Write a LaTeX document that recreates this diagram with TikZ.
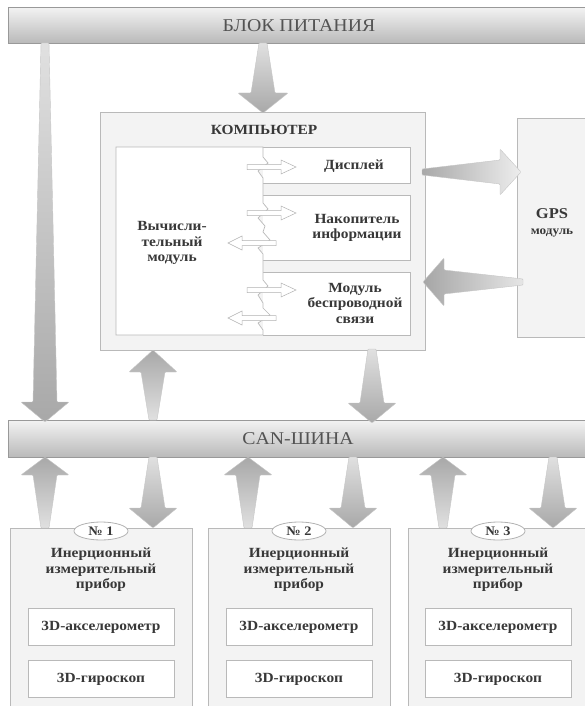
\documentclass[tikz,border=0pt]{standalone}
\usepackage{fontspec}
\setmainfont{Liberation Serif}[FakeStretch=1.1]
\usetikzlibrary{shapes.geometric}
\definecolor{txt}{HTML}{383838}
\definecolor{boxbg}{HTML}{F3F3F3}
\newcommand\varr[8]{\shade[#8] ({#1-#5},#2) -- ({#1-#6},#3) -- ({#1-#7},#3) -- (#1,#4) -- ({#1+#7},#3) -- ({#1+#6},#3) -- ({#1+#5},#2) -- cycle;}
\newcommand\harr[8]{\shade[#8] (#2,{#1-#5}) -- (#3,{#1-#6}) -- (#3,{#1-#7}) -- (#4,#1) -- (#3,{#1+#7}) -- (#3,{#1+#6}) -- (#2,{#1+#5}) -- cycle;}
\newcommand\sarr[4]{\filldraw[smallarr] (#2,{#1-2.5}) -- (#3,{#1-2.5}) -- (#3,{#1-7}) -- (#4,#1) -- (#3,{#1+7}) -- (#3,{#1+2.5}) -- (#2,{#1+2.5}) -- cycle;}
\begin{document}
\begin{tikzpicture}[x=1pt,y=-1pt,
  bar/.style={top color=gray!10, bottom color=gray!55, draw=gray!80, line width=0.9pt, inner sep=0pt},
  bartext/.style={text=gray!65!black, font=\fontsize{18}{18}\selectfont},
  box/.style={fill=boxbg, draw=gray!55, line width=0.7pt, inner sep=0pt},
  wbox/.style={fill=white, draw=gray!55, line width=0.7pt, inner sep=0pt},
  lbl/.style={text=txt, font=\bfseries\fontsize{14}{15.5}\selectfont, align=center, inner sep=0pt},
  numell/.style={ellipse, fill=white, draw=gray!60, line width=0.8pt, minimum width=54pt, minimum height=18pt, inner sep=0pt, text=txt, font=\bfseries\fontsize{13}{13}\selectfont},
  fat/.style={draw=gray!45, line width=0.4pt, rounded corners=0.8pt},
  fdown/.style={fat, top color=gray!24, bottom color=gray!68},
  fup/.style={fat, top color=gray!68, bottom color=gray!24},
  smallarr/.style={fill=white, draw=gray!60, line width=0.5pt}]
\useasboundingbox (0,0) rectangle (584,706);

% bars
\node[bar, anchor=north west, minimum width=582pt, minimum height=36pt] (pwr) at (8,7) {};
\node[bartext] (pwrtxt) at (299,26) {БЛОК ПИТАНИЯ};
\node[bar, anchor=north west, minimum width=582pt, minimum height=37pt] (can) at (8,420) {};
\node[bartext] (cantxt) at (298,439) {CAN-ШИНА};

% computer
\node[box, anchor=north west, minimum width=325pt, minimum height=238pt] (comp) at (100,112) {};
\node[lbl, font=\bfseries\fontsize{14}{14}\selectfont] (comptxt) at (264,130) {КОМПЬЮТЕР};

% sub boxes
\fill[white] (263,147) rectangle (410,183);
\draw[gray!55, line width=0.7pt] (263,147) -| (410,183) -- (263,183);
\fill[white] (263,195) rectangle (410,260);
\draw[gray!55, line width=0.7pt] (263,195) -| (410,260) -- (263,260);
\fill[white] (263,272) rectangle (410,335);
\draw[gray!55, line width=0.7pt] (263,272) -| (410,335) -- (263,335);

% computing module area with jagged edge
\filldraw[fill=white, draw=gray!55, line width=0.7pt] (263,147) -- (116,147) -- (116,335) -- (263,335) -- (263,330) -- (258,323) -- (270,315) -- (263,308) -- (263,303) -- (258,295) -- (268,286) -- (263,280) -- (263,254) -- (258,248) -- (270,240) -- (263,232) -- (265,226) -- (258,218) -- (268,209) -- (263,203) -- (263,178) -- (258,171) -- (268,163) -- (263,157) -- cycle;

\node[lbl] (calc) at (172,243) {Вычисли-\\тельный\\модуль};
\node[lbl] (disp) at (354,166) {Дисплей};
\node[lbl] (stor) at (357,228) {Накопитель\\информации};
\node[lbl] (wifi) at (355,303) {Модуль\\беспроводной\\связи};

% small hollow arrows
\sarr{167}{247}{281}{296}
\sarr{213}{247}{281}{296}
\sarr{290}{247}{281}{296}
\sarr{243}{276}{242}{228}
\sarr{318}{276}{242}{228}

% GPS
\node[box, anchor=north west, minimum width=75pt, minimum height=219pt] (gps) at (517,118) {};
\node[lbl, font=\bfseries\fontsize{15}{15}\selectfont] (gpstxt) at (552,214) {GPS};
\node[lbl, font=\bfseries\fontsize{12}{12}\selectfont] (gpsmod) at (552,233) {модуль};

% GPS arrows
\harr{172}{422}{500}{521}{3}{12}{23}{fat, left color=gray!68, right color=gray!14}
\harr{282}{523}{444}{423}{3}{12}{24}{fat, left color=gray!70, right color=gray!20}

% power / bus arrows
\varr{45}{43}{402}{422}{4}{12}{24}{fdown}
\varr{263}{43}{93}{113}{4}{12}{25}{fdown}
\varr{153}{420}{372}{350}{4}{12}{24}{fup}
\varr{372}{349}{403}{423}{4}{12}{24}{fdown}

\varr{45}{528}{475}{457}{4}{12}{24}{fup}
\varr{153}{457}{508}{528}{4}{12}{24}{fdown}
\varr{248}{528}{475}{457}{4}{12}{24}{fup}
\varr{353}{457}{508}{528}{4}{12}{24}{fdown}
\varr{443}{528}{475}{457}{4}{12}{24}{fup}
\varr{553}{457}{508}{528}{4}{12}{24}{fdown}

% IMU boxes
\foreach \i/\xl/\xc in {1/10/101, 2/208/299, 3/408/498}{
  \node[box, anchor=north west, minimum width=182pt, minimum height=200pt] (imu\i) at (\xl,528) {};
  \node[numell] (num\i) at (\xc,531) {№ \i};
  \node[lbl] (imut\i) at (\xc,570) {Инерционный\\измерительный\\прибор};
  \node[wbox, minimum width=146pt, minimum height=37pt] (acc\i) at (\xc,627) {};
  \node[lbl] (acct\i) at (\xc,627) {3D-акселерометр};
  \node[wbox, minimum width=146pt, minimum height=37pt] (gyr\i) at (\xc,679) {};
  \node[lbl] (gyrt\i) at (\xc,679) {3D-гироскоп};
}
\end{tikzpicture}
\end{document}
